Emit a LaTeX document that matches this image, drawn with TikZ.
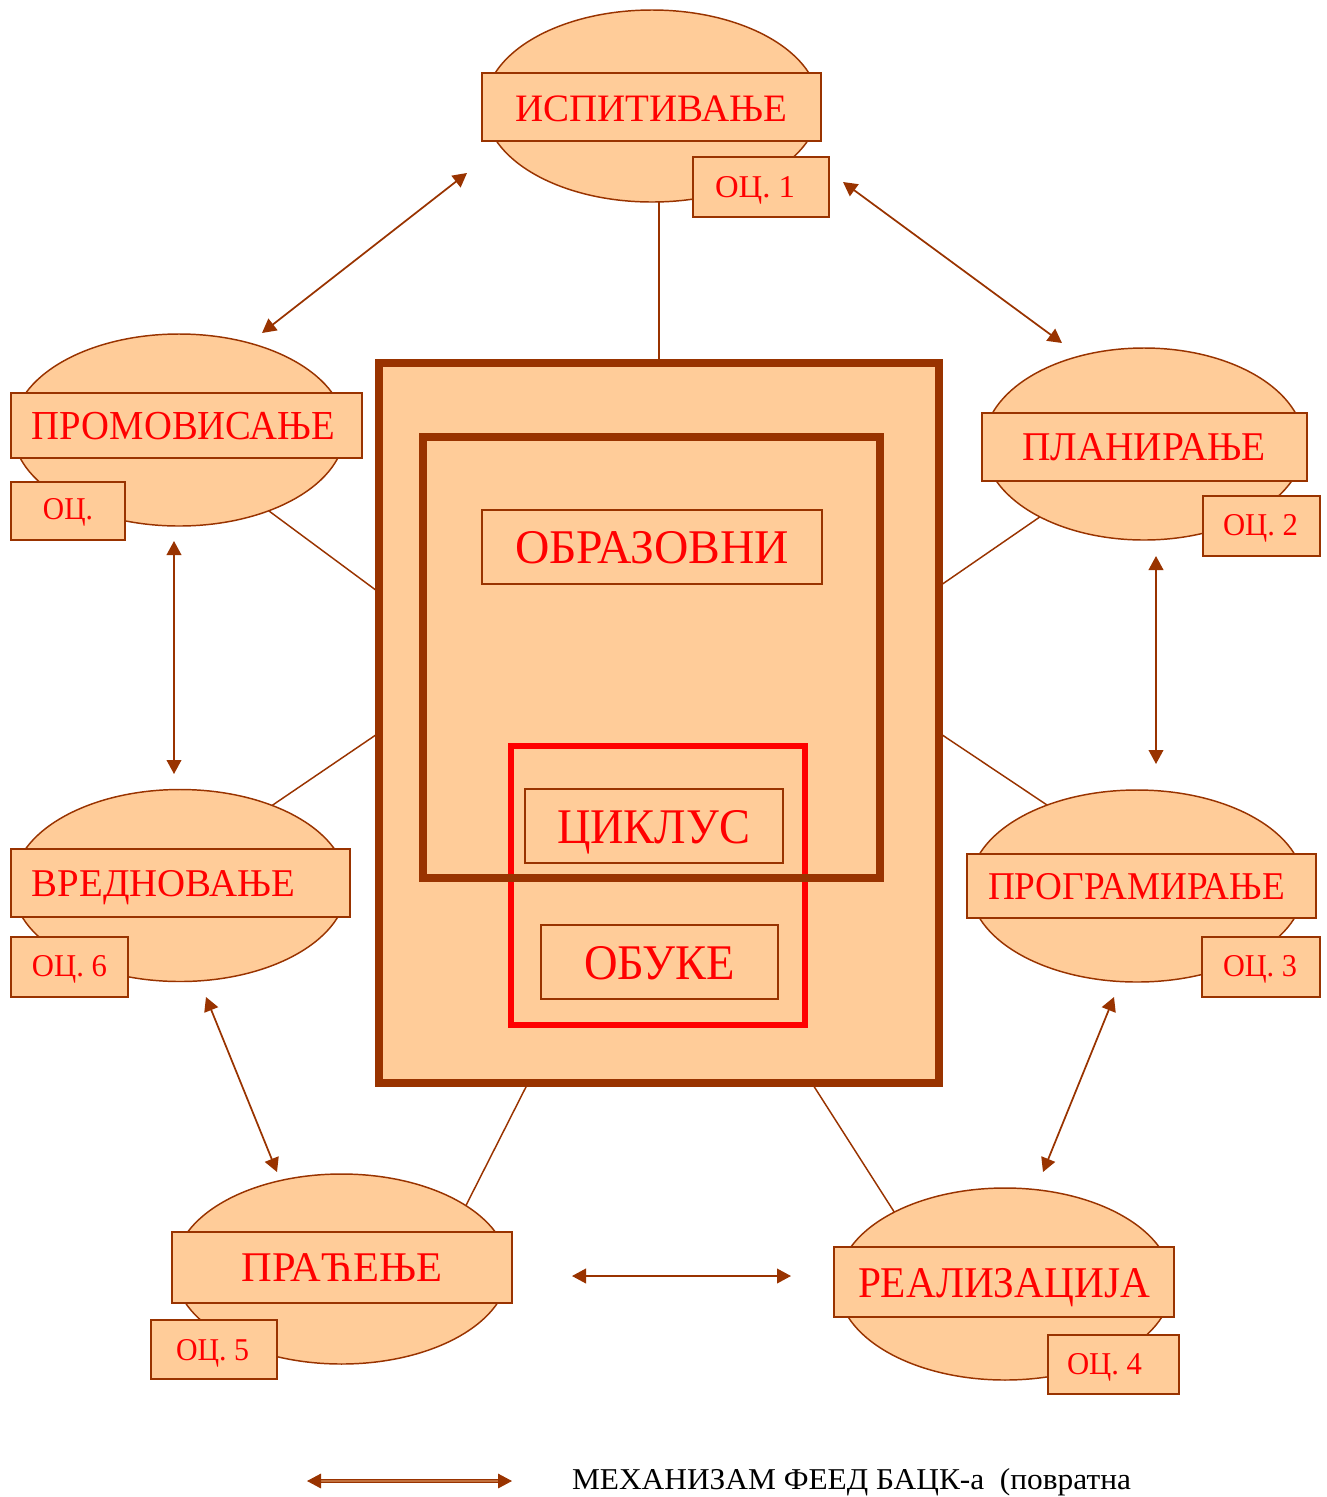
\documentclass[tikz,border=0pt]{standalone}
\usepackage{fontspec}
\usepackage{graphicx}
\setmainfont{Liberation Serif}
\usetikzlibrary{shapes.geometric,arrows.meta}
\definecolor{peach}{HTML}{FFCC99}
\definecolor{brn}{HTML}{993300}
\definecolor{txtred}{HTML}{FF0000}
\newcommand\fitw[2]{\resizebox{#1}{\height}{#2}}
\newcommand\bx[6]{\node[#6, minimum width={(#4-#2)*0.75pt}, minimum height={(#5-#3)*0.75pt}] (#1) at ({(#2+#4)/2},{(#3+#5)/2}) {};}
\newcommand\el[5]{\node[ell, minimum width={2*#4*0.75pt}, minimum height={2*#5*0.75pt}] (#1) at (#2,#3) {};}
\newcommand\tx[6]{\node[txt, font=\fontsize{#4pt}{#4pt}\selectfont] (#1) at (#2,#3) {\fitw{#5pt}{#6}};}
\begin{document}
\begin{tikzpicture}[x=0.75pt,y=-0.75pt,
  ell/.style={ellipse, draw=brn, fill=peach, line width=1.1pt, inner sep=0pt, outer sep=0pt},
  lbox/.style={rectangle, draw=brn, fill=peach, line width=1.2pt, inner sep=0pt, outer sep=0pt},
  ibox/.style={rectangle, draw=brn, line width=1pt, inner sep=0pt, outer sep=0pt},
  bigbox/.style={rectangle, draw=brn, fill=peach, line width=5.4pt, inner sep=0pt, outer sep=0pt},
  brnbox/.style={rectangle, draw=brn, line width=5.4pt, inner sep=0pt, outer sep=0pt},
  redbox/.style={rectangle, draw=txtred, line width=5.2pt, inner sep=0pt, outer sep=0pt},
  txt/.style={anchor=base, inner sep=0pt, outer sep=0pt, text=txtred},
  conn/.style={draw=brn, line width=1.1pt},
  fb/.style={draw=brn, line width=1.3pt, {Triangle[length=10.5pt,width=11pt]}-{Triangle[length=10.5pt,width=11pt]}}
]
\useasboundingbox (0,0) rectangle (1327,1497);

% central block
\bx{outer}{379}{363}{939}{1083}{bigbox}
\bx{redr}{511}{746}{805}{1025}{redbox}
\bx{inner}{423}{437}{880}{878}{brnbox}
\bx{bobr}{482}{510}{822}{584}{ibox}
\bx{bcik}{525}{789}{783}{863}{ibox}
\bx{bobu}{541}{925}{778}{999}{ibox}
\tx{tobr}{652}{563}{36.3}{205.5}{ОБРАЗОВНИ}
\tx{tcik}{653.5}{843}{37.4}{144.75}{ЦИКЛУС}
\tx{tobu}{659.5}{979}{37.4}{113.25}{ОБУКЕ}

% ellipses
\el{e1}{652}{106}{167}{96}
\el{e2}{179}{430}{166}{96}
\el{e3}{1144}{444}{160}{96}
\el{e6}{180}{885.5}{167}{96}
\el{e4}{1137}{886}{167}{96}
\el{e5}{341.5}{1269}{167}{95}
\el{e7}{1005}{1284}{167}{96}

% label boxes
\bx{r1}{482}{73}{821}{141}{lbox}
\bx{o1}{693}{157}{829}{217}{lbox}
\bx{r2}{11}{393}{362}{458}{lbox}
\bx{o2}{11}{482}{125}{540}{lbox}
\bx{r3}{982}{413}{1307}{481}{lbox}
\bx{o3}{1203}{496}{1320}{556}{lbox}
\bx{r6}{11}{849}{350}{917}{lbox}
\bx{o6}{11}{937}{128}{997}{lbox}
\bx{r4}{967}{854}{1316}{918}{lbox}
\bx{o4}{1202}{937}{1320}{997}{lbox}
\bx{r5}{172}{1232}{512}{1303}{lbox}
\bx{o5}{151}{1320}{277}{1379}{lbox}
\bx{r7}{834}{1247}{1174}{1317}{lbox}
\bx{o7}{1048}{1335}{1179}{1394}{lbox}

% texts
\tx{t1}{651.5}{121}{29.1}{204}{ИСПИТИВАЊЕ}
\tx{q1}{755}{197}{23.8}{60}{ОЦ. 1}
\tx{t2}{183.5}{439}{30.9}{227.25}{ПРОМОВИСАЊЕ}
\tx{q2}{68}{519}{23.8}{37.5}{ОЦ.}
\tx{t3}{1144}{460}{30.6}{183}{ПЛАНИРАЊЕ}
\tx{q3}{1260.5}{535}{23.8}{56.25}{ОЦ. 2}
\tx{t6}{163.5}{896}{29.5}{197.25}{ВРЕДНОВАЊЕ}
\tx{q6}{69.5}{976}{23.8}{56.25}{ОЦ. 6}
\tx{t4}{1136.5}{899}{29.5}{222.75}{ПРОГРАМИРАЊЕ}
\tx{q4}{1260}{976}{23.8}{55.5}{ОЦ. 3}
\tx{t5}{342}{1281}{31.7}{150}{ПРАЋЕЊЕ}
\tx{q5}{212.5}{1360}{23.8}{54.75}{ОЦ. 5}
\tx{t7}{1004}{1297}{32.9}{219}{РЕАЛИЗАЦИЈА}
\tx{q7}{1104.5}{1374}{23.8}{56.25}{ОЦ. 4}

% connectors ellipse -> central block
\draw[conn] (outer.north |- e1.south) -- (outer.north);
\draw[conn] (e2.-42) -- (outer.155.85);
\draw[conn] (e3.-145.1) -- (outer.26.5);
\draw[conn] (e6.41.2) -- (outer.-178);
\draw[conn] (e4.138.9) -- (outer.-2.45);
\draw[conn] (e5.27.7) -- (outer.-110.4);
\draw[conn] (e7.147.6) -- (outer.-67.5);

% feedback arrows
\coordinate (a1s) at (262,333); \coordinate (a1e) at (467,173);
\coordinate (a2s) at (843,182); \coordinate (a2e) at (1062,343);
\coordinate (a3s) at (174,541); \coordinate (a3e) at (174,774);
\coordinate (a4s) at (1156,556); \coordinate (a4e) at (1156,764);
\coordinate (a5s) at (206,997); \coordinate (a5e) at (277,1172);
\coordinate (a6s) at (1114,997); \coordinate (a6e) at (1043,1172);
\coordinate (a7s) at (572,1276); \coordinate (a7e) at (791,1276);
\coordinate (lgs) at (307,1481); \coordinate (lge) at (512,1481);
\draw[fb] (a1s) -- (a1e);
\draw[fb] (a2s) -- (a2e);
\draw[fb] (a3s) -- (a3e);
\draw[fb] (a4s) -- (a4e);
\draw[fb] (a5s) -- (a5e);
\draw[fb] (a6s) -- (a6e);
\draw[fb] (a7s) -- (a7e);
\draw[draw=brn, line width=0.8pt, double=brn!60!peach, double distance=0.8pt, {Triangle[length=10.5pt,width=11pt]}-{Triangle[length=10.5pt,width=11pt]}] (lgs) -- (lge);

% legend text
\node[anchor=base west, inner sep=0pt, outer sep=0pt, text=black, font=\fontsize{22.7pt}{22.7pt}\selectfont] (leg) at (572,1489) {\fitw{419.25pt}{МЕХАНИЗАМ ФЕЕД БАЦК-а\ \ (повратна}};
\end{tikzpicture}
\end{document}
